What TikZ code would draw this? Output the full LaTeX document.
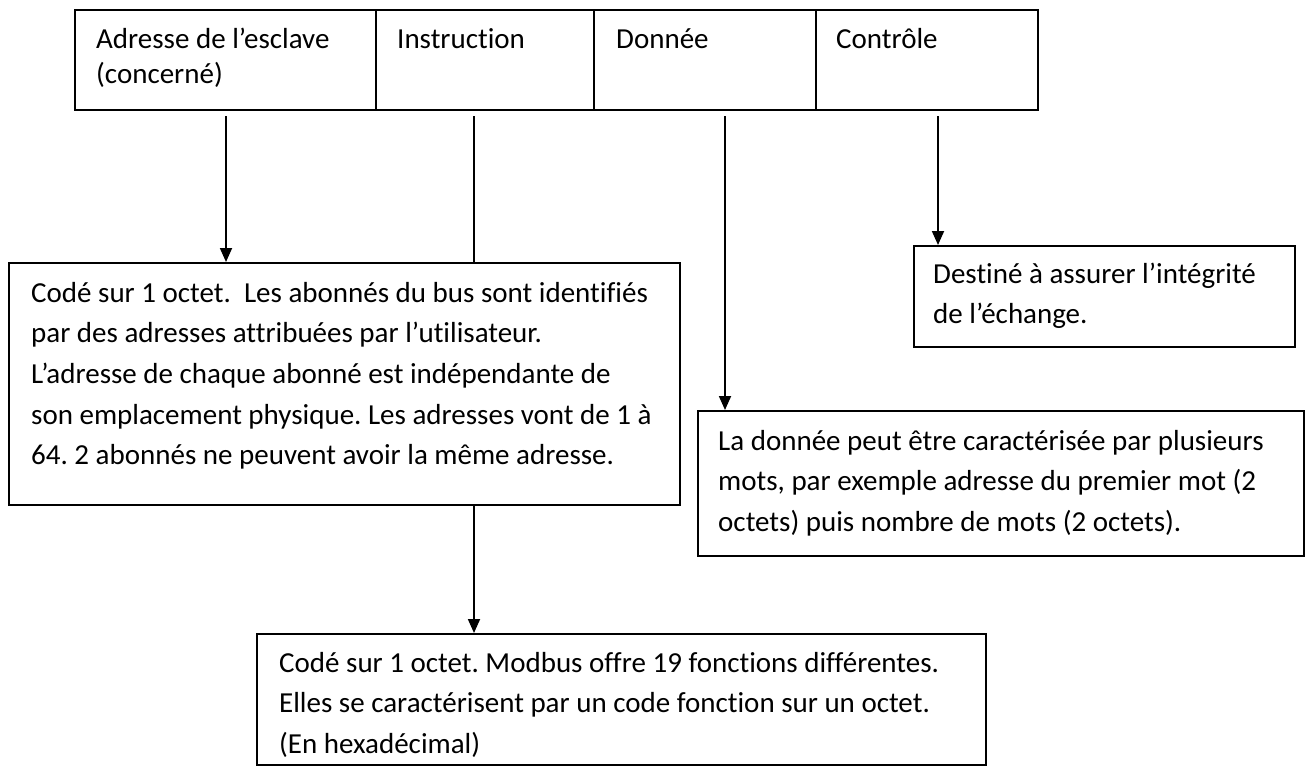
\documentclass[tikz,border=0pt]{standalone}
\usepackage{fontspec}
\setmainfont{Carlito}[Ligatures=NoCommon]
\usetikzlibrary{arrows.meta}
\begin{document}
\frenchspacing
\begin{tikzpicture}[x=1pt,y=-1pt,
  frame/.style={draw, line width=2.1pt, inner sep=0pt, anchor=north west},
  body/.style={inner sep=0pt, anchor=north west, align=left,
    font=\fontsize{29}{40.7}\selectfont},
  head/.style={inner sep=0pt, anchor=north west, align=left,
    font=\fontsize{29}{35}\selectfont},
  arr/.style={line width=1.8pt, -{Triangle[length=14pt,width=12pt]}},
  link/.style={line width=1.8pt}]
\useasboundingbox (0,0) rectangle (1306,766);

% frame layout: one row of four fields
\node[frame, minimum width=301pt, minimum height=100pt] (c1) at (74,9) {};
\node[frame, minimum width=218pt, minimum height=100pt] (c2) at (375,9) {};
\node[frame, minimum width=222pt, minimum height=100pt] (c3) at (593,9) {};
\node[frame, minimum width=222pt, minimum height=100pt] (c4) at (815,9) {};
\node[head] (h1) at (96,23.5) {\strut Adresse de l’esclave\\(concerné)};
\node[head] (h2) at (397,23.5) {\strut Instruction};
\node[head] (h3) at (616,23.5) {\strut Donnée};
\node[head] (h4) at (836,23.5) {\strut Contrôle};

% explanation boxes
\node[frame, minimum width=671pt, minimum height=242pt] (b1) at (8,262) {};
\node[body] (t1) at (31,273.5) {\strut Codé sur 1 octet.\ \ Les abonnés du bus sont identifiés\\
par des adresses attribuées par l’utilisateur.\\
L’adresse de chaque abonné est indépendante de\\
son emplacement physique. Les adresses vont de 1 à\\
64. 2 abonnés ne peuvent avoir la même adresse.};

\node[frame, minimum width=606pt, minimum height=145pt] (b2) at (697,410) {};
\node[body] (t2) at (718,421.5) {\strut La donnée peut être caractérisée par plusieurs\\
mots, par exemple adresse du premier mot (2\\
octets) puis nombre de mots (2 octets).};

\node[frame, minimum width=729pt, minimum height=131pt] (b3) at (256,633) {};
\node[body] (t3) at (279,643.5) {\strut Codé sur 1 octet. Modbus offre 19 fonctions différentes.\\
Elles se caractérisent par un code fonction sur un octet.\\
(En hexadécimal)};

\node[frame, minimum width=381pt, minimum height=101pt] (b4) at (913,245) {};
\node[body] (t4) at (933,254.5) {\strut Destiné à assurer l’intégrité\\
de l’échange.};

% connectors from the fields to their descriptions
\coordinate (s1) at (226,116);
\coordinate (s2) at (474,116);
\coordinate (s3) at (725,116);
\coordinate (s4) at (938,116);
\draw[arr] (s1) -- (s1 |- b1.north);
\draw[link] (s2) -- (s2 |- b1.north);
\draw[arr] (s2 |- b1.south) -- (s2 |- b3.north);
\draw[arr] (s3) -- (s3 |- b2.north);
\draw[arr] (s4) -- (s4 |- b4.north);
\end{tikzpicture}
\end{document}
